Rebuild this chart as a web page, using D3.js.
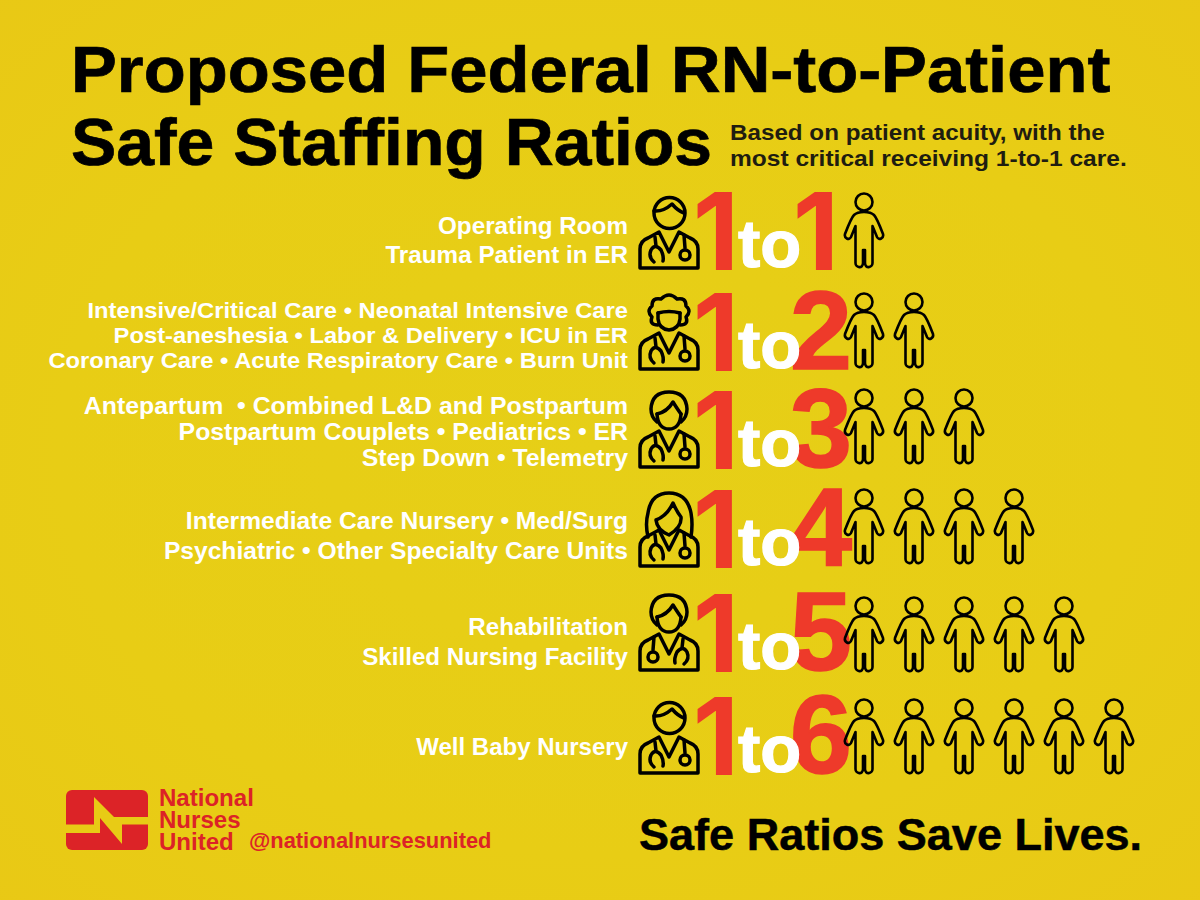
<!DOCTYPE html>
<html>
<head>
<meta charset="utf-8">
<script src="https://cdn.jsdelivr.net/npm/d3@7"></script>
<style>
html, body { margin: 0; padding: 0; background: #e8cb15; }
svg { display: block; }
text { font-family: "Liberation Sans", Arial, sans-serif; font-weight: 700; white-space: pre; }
</style>
</head>
<body>
<svg id="chart" width="1200" height="900"></svg>
<script>
const titleLines = ["Proposed Federal RN-to-Patient", "Safe Staffing Ratios"];
const subtitleLines = ["Based on patient acuity, with the", "most critical receiving 1-to-1 care."];
const ratios = [1, 2, 3, 4, 5, 6];
const careLabels = [
    ["Operating Room", "Trauma Patient in ER"],
    ["Intensive/Critical Care • Neonatal Intensive Care", "Post-aneshesia • Labor & Delivery • ICU in ER", "Coronary Care • Acute Respiratory Care • Burn Unit"],
    ["Antepartum  • Combined L&D and Postpartum", "Postpartum Couplets • Pediatrics • ER", "Step Down • Telemetry"],
    ["Intermediate Care Nursery • Med/Surg", "Psychiatric • Other Specialty Care Units"],
    ["Rehabilitation", "Skilled Nursing Facility"],
    ["Well Baby Nursery"]
];
const nurseHair = ["short", "curly", "cap", "long", "cap", "short"];
const logoLines = ["National", "Nurses", "United"];
const handle = "@nationalnursesunited";
const slogan = "Safe Ratios Save Lives.";

const red = "#ee3a2a";
const logoRed = "#dc2327";
const yellow = "#e8cb15";

const svg = d3.select("#chart");

const defs = svg.append("defs");
const glow = defs.append("radialGradient").attr("id", "bg").attr("cx", "50%").attr("cy", "50%").attr("r", "75%");
glow.append("stop").attr("offset", "0%").attr("stop-color", "#e6cf17");
glow.append("stop").attr("offset", "60%").attr("stop-color", "#e8cd15");
glow.append("stop").attr("offset", "100%").attr("stop-color", "#e9c815");
svg.append("rect").attr("width", 1200).attr("height", 900).attr("fill", "url(#bg)");

// rows are not evenly spaced in the poster, so the scales are ordinal
const rowBase = d3.scaleOrdinal().domain(ratios).range([270, 371, 469, 568, 672, 775]);
const personTop = d3.scaleOrdinal().domain(ratios).range([202, 302, 398, 498, 606, 708]);
const labelLead = d3.scaleOrdinal().domain(ratios).range([28.5, 25, 26, 30, 30, 0]);
const labelFirst = d3.scaleOrdinal().domain(ratios).range([234, 318, 414, 529, 635, 755]);
const labelSize = d3.scaleOrdinal().domain(ratios).range([23.2, 22, 23, 23, 23, 23]);
const labelWiden = d3.scaleOrdinal().domain(ratios).range([1.046, 1.08, 1.08, 1.07, 1.05, 1.044]);
const personX = d3.scaleLinear().domain([0, 5]).range([864, 1114]);

// Liberation is narrower than the poster's Helvetica, so widen the glyphs a bit
function widen(sel, factor) {
    sel.each(function(d, i) {
        const f = typeof factor === "function" ? factor(d, i) : factor;
        d3.select(this)
            .attr("textLength", this.getComputedTextLength() * f)
            .attr("lengthAdjust", "spacingAndGlyphs");
    });
}

svg.append("g").selectAll("text")
    .data(titleLines)
    .join("text")
    .attr("x", 71)
    .attr("y", (d, i) => i === 0 ? 92 : 165)
    .attr("font-size", (d, i) => i === 0 ? 65.5 : 67)
    .attr("fill", "#000")
    .attr("stroke", "#000")
    .attr("stroke-width", 0.7)
    .text(d => d)
    .call(widen, (d, i) => i === 0 ? 1.05 : 1.013);

svg.append("g").selectAll("text")
    .data(subtitleLines)
    .join("text")
    .attr("x", 730)
    .attr("y", (d, i) => 140 + i * 26)
    .attr("font-size", 22)
    .attr("fill", "#1f1d10")
    .text(d => d)
    .call(widen, (d, i) => i === 0 ? 1.1 : 1.115);

const row = svg.append("g").selectAll("g")
    .data(ratios)
    .join("g");

row.each(function(n, i) {
    d3.select(this).selectAll("text.care")
        .data(careLabels[i])
        .join("text")
        .attr("class", "care")
        .attr("x", 628)
        .attr("y", (d, j) => labelFirst(n) + j * labelLead(n))
        .attr("text-anchor", "end")
        .attr("font-size", labelSize(n))
        .attr("fill", "#fff")
        .text(d => d)
        .call(widen, labelWiden(n));
});

const torso = "M-29,0H29V-19Q29,-27 21,-30L10,-36L0,-16L-10,-36L-21,-30Q-29,-27 -29,-19Z";
const faces = {
    short: "M-15,-55A15.5,15.5 0 1,0 16,-55A15.5,15.5 0 1,0 -15,-55Z",
    curly: "M-11,-56V-50Q-10,-40 0,-39Q10,-40 11,-50V-56",
    cap: "M-12,-53Q-11,-38 0,-38Q11,-38 12,-53",
    long: "M-13,-46Q-2,-50 4,-63Q8,-54 12,-49Q13,-39 0,-31Q-12,-36 -13,-46Z"
};
const hairPaths = {
    short: "M-15,-57Q-6,-56 3,-64Q9,-57 15,-55",
    curly: "M-11,-44Q-20,-44 -17,-52Q-23,-58 -17,-63Q-17,-72 -8,-70Q0,-78 8,-70Q17,-72 17,-63Q23,-58 17,-52Q20,-44 11,-44M-11,-56Q0,-59 11,-56",
    cap: "M-12,-45Q-18,-50 -18,-58Q-17,-75 0,-75Q17,-75 18,-58Q18,-50 12,-45M-12,-53Q-2,-55 4,-65Q9,-57 12,-53",
    long: "M-21,-29Q-24,-42 -21,-53Q-18,-73 0,-73Q18,-73 22,-53Q24,-42 22,-29"
};

function drawNurse(g, hair, flip) {
    const line = sel => sel.attr("fill", "none").attr("stroke", "#000").attr("stroke-width", 3.5).attr("stroke-linecap", "round").attr("stroke-linejoin", "round");
    g.append("path").attr("d", torso).call(line);
    g.append("path").attr("d", faces[hair]).call(line);
    g.append("path").attr("d", hairPaths[hair]).call(line);
    const scope = g.append("g").attr("transform", flip ? "scale(-1,1)" : null);
    scope.append("path").attr("d", "M-15,-6Q-21,-11 -18,-18Q-14,-25 -8,-18Q-5,-12 -6,-7M-14,-31L-13,-22M15,-33L16,-20").call(line);
    scope.append("circle").attr("cx", 16).attr("cy", -13).attr("r", 5).call(line);
}

row.append("g")
    .attr("transform", n => `translate(669,${rowBase(n) - 2})`)
    .each(function(n, i) { drawNurse(d3.select(this), nurseHair[i], n === 5); });

// Liberation's 1 has a foot the poster's doesn't, so the ones come from Inter
function drawOne(sel, x) {
    sel.append("text")
        .attr("x", x)
        .attr("y", n => rowBase(n))
        .attr("text-anchor", "end")
        .attr("font-size", 107)
        .style("font-family", "Inter")
        .style("font-weight", 700)
        .attr("fill", red)
        .text(1);
}

row.call(drawOne, 739);
row.filter(n => n === 1).call(drawOne, 839);

row.filter(n => n > 1).append("text")
    .attr("x", 852)
    .attr("y", n => rowBase(n) - 2)
    .attr("text-anchor", "end")
    .attr("font-size", 112)
    .attr("fill", red)
    .attr("stroke", red)
    .attr("stroke-width", 1.5)
    .text(n => n);

row.append("text")
    .attr("x", 738)
    .attr("y", n => rowBase(n) - 3)
    .attr("font-size", 67)
    .attr("fill", "#fff")
    .attr("stroke", "#fff")
    .attr("stroke-width", 1.2)
    .text("to");

// one outlined figure per patient
const personBody = "M0,10C5,10 8,11 10,13C12,15 14,19 19,32C20,36 15,39 13,35L8.5,24V61C8.5,66 1,67 1,61V48H-1V61C-1,67 -8.5,66 -8.5,61V24L-13,35C-15,39 -20,36 -19,32C-14,19 -12,15 -10,13C-8,11 -5,10 0,10Z";

const person = row.selectAll("g.person")
    .data(n => d3.range(n).map(i => ({ n, i })))
    .join("g")
    .attr("class", "person")
    .attr("transform", d => `translate(${personX(d.i)},${personTop(d.n)})`);

person.append("circle")
    .attr("r", 8.5)
    .attr("fill", "none")
    .attr("stroke", "#000")
    .attr("stroke-width", 2.6);

person.append("path")
    .attr("d", personBody)
    .attr("fill", "none")
    .attr("stroke", "#000")
    .attr("stroke-width", 2.6)
    .attr("stroke-linejoin", "round");

// logo
const logo = svg.append("g").attr("transform", "translate(66,790)");
logo.append("rect").attr("width", 82).attr("height", 60).attr("rx", 6).attr("fill", logoRed);
logo.append("path")
    .attr("d", "M0,34.5H28V7L48,27H82V34.5H56V54L34,28V43H0Z")
    .attr("fill", yellow);

svg.append("g").selectAll("text")
    .data(logoLines)
    .join("text")
    .attr("x", 159)
    .attr("y", (d, i) => 806 + i * 22)
    .attr("font-size", 23)
    .attr("fill", logoRed)
    .text(d => d)
    .call(widen, 1.045);

svg.append("text")
    .attr("x", 249)
    .attr("y", 848)
    .attr("font-size", 21.5)
    .attr("fill", logoRed)
    .text(handle)
    .call(widen, 1.017);

svg.append("text")
    .attr("x", 639)
    .attr("y", 850)
    .attr("font-size", 44.5)
    .attr("fill", "#000")
    .attr("stroke", "#000")
    .attr("stroke-width", 0.5)
    .text(slogan)
    .call(widen, 1.012);
</script>
</body>
</html>
